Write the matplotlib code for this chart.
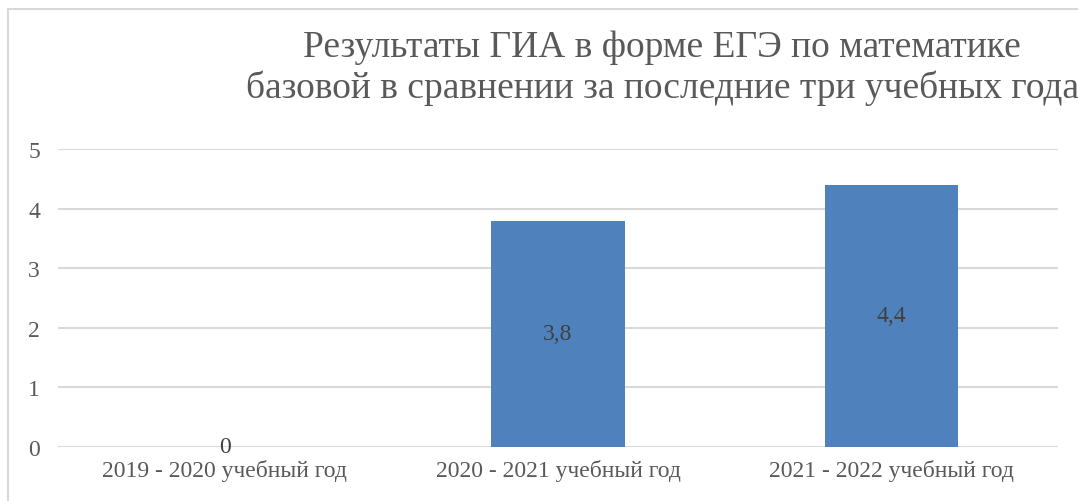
import matplotlib.pyplot as plt
from matplotlib.patches import Rectangle

# данные диаграммы
годы = ["2019 - 2020 учебный год", "2020 - 2021 учебный год", "2021 - 2022 учебный год"]
баллы = [0, 3.8, 4.4]
подписи = ["0", "3,8", "4,4"]
деления_y = [0, 1, 2, 3, 4, 5]

plt.rcParams['font.family'] = ['Liberation Serif', 'DejaVu Serif']

fig = plt.figure(figsize=(10.78, 5.02), dpi=100)
# рамка вокруг диаграммы (справа и снизу уходит за край)
fig.patches.append(Rectangle((8/1078, -0.05), 1.2, 1 - 10/502 + 0.05, transform=fig.transFigure,
                             fill=False, edgecolor='#d9d9d9', linewidth=1.5))

ax = fig.add_axes([58/1078, 1 - 448/502, 1000/1078, 298/502])

x = range(len(годы))
столбцы = ax.bar(x, баллы, width=0.4, color='#4f81bd', zorder=3)
for xi, v, t in zip(x, баллы, подписи):
    ax.text(xi, v / 2, t, ha='center', va='center', fontsize=17, color='#404040', zorder=4)

ax.set_xlim(-0.5, 2.5)
ax.set_ylim(0, 5)
ax.set_yticks(деления_y)
ax.set_xticks(list(x))
ax.set_xticklabels(годы)
ax.grid(axis='y', color='#d9d9d9', linewidth=1.5, zorder=0)
ax.tick_params(axis='both', length=0, labelsize=17, labelcolor='#595959')
ax.tick_params(axis='y', pad=13)
ax.tick_params(axis='x', pad=9)
for s in ax.spines.values():
    s.set_visible(False)

fig.text(662/1078, 1 - 68/502, "Результаты ГИА в форме ЕГЭ по математике\nбазовой в сравнении за последние три учебных года",
         ha='center', va='center', fontsize=27, color='#595959', linespacing=1.2)

plt.savefig("out.png", dpi=100)
